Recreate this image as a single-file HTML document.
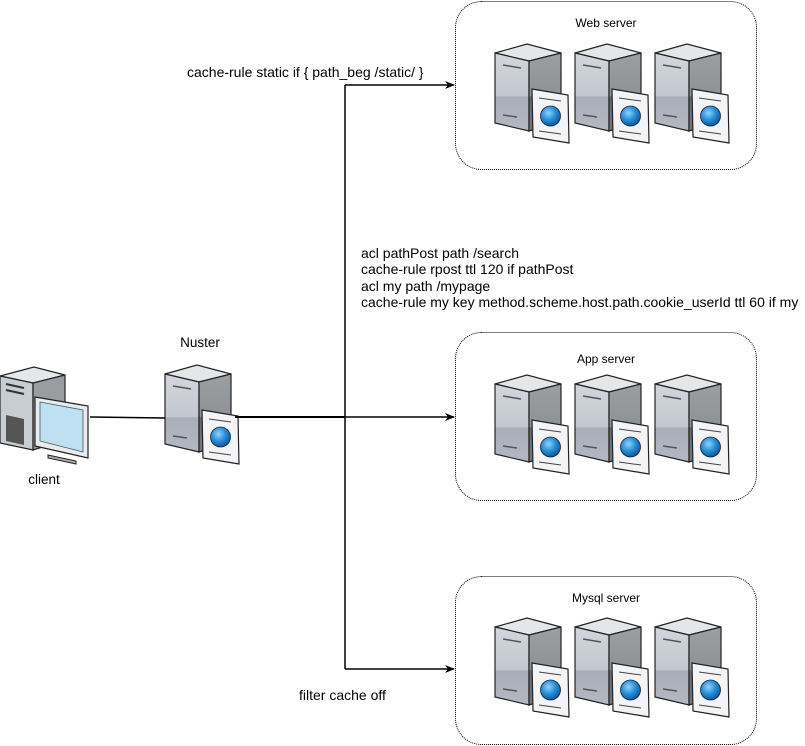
<!DOCTYPE html>
<html><head><meta charset="utf-8"><style>
html,body{margin:0;padding:0;background:#fff;}
svg{display:block;font-family:"Liberation Sans",Arial,sans-serif;}
</style></head><body>
<svg width="805" height="746" viewBox="0 0 805 746" xmlns="http://www.w3.org/2000/svg">
<defs>
<radialGradient id="gl" cx="0.4" cy="0.35" r="0.7"><stop offset="0" stop-color="#8fd4ff"/><stop offset="0.5" stop-color="#2a8fd8"/><stop offset="1" stop-color="#0a4f95"/></radialGradient>
<linearGradient id="fr" x1="0" y1="0" x2="0" y2="1"><stop offset="0" stop-color="#d3d6dc"/><stop offset="0.55" stop-color="#c3c7cf"/><stop offset="0.56" stop-color="#a9aeb9"/><stop offset="1" stop-color="#b4b8c2"/></linearGradient>
<linearGradient id="sd" x1="0" y1="0" x2="0" y2="1"><stop offset="0" stop-color="#9c9fa1"/><stop offset="0.55" stop-color="#8f9294"/><stop offset="0.56" stop-color="#676b6f"/><stop offset="1" stop-color="#75797d"/></linearGradient>
<g id="srv">
<polygon points="0,10 32,1 66,10 34,18" fill="#e4e6ea" stroke="#222" stroke-width="1.2"/>
<polygon points="0,10 34,18 34,88 0,80" fill="url(#fr)" stroke="#222" stroke-width="1.2"/>
<polygon points="34,18 66,10 66,78 34,88" fill="url(#sd)" stroke="#222" stroke-width="1.2"/>
<line x1="8" y1="22" x2="26" y2="25" stroke="#555" stroke-width="1.5"/>
<line x1="8" y1="72" x2="22" y2="74" stroke="#555" stroke-width="1.5"/>
<polygon points="37,46 73,52 74,100 38,94" fill="#f4f4f6" stroke="#222" stroke-width="1.2"/>
<line x1="44" y1="55" x2="66" y2="58" stroke="#444" stroke-width="1"/>
<line x1="44" y1="88" x2="66" y2="91" stroke="#444" stroke-width="1"/>
<circle cx="55.5" cy="73" r="10" fill="url(#gl)" stroke="#123" stroke-width="0.8"/>
</g>
<marker id="ar" markerWidth="10" markerHeight="8" refX="9" refY="4" orient="auto" markerUnits="userSpaceOnUse"><path d="M0,0 L10,4 L0,8 L3,4 z" fill="#000"/></marker>
</defs>

<rect x="455.5" y="1.5" width="301" height="168" rx="26" fill="none" stroke="#000" stroke-dasharray="1,1"/>
<rect x="455.5" y="332.5" width="301" height="168" rx="26" fill="none" stroke="#000" stroke-dasharray="1,1"/>
<rect x="455.5" y="576.5" width="301" height="168" rx="26" fill="none" stroke="#000" stroke-dasharray="1,1"/>

<text x="606" y="27" font-size="12" text-anchor="middle">Web server</text>
<text x="606" y="363" font-size="12" text-anchor="middle">App server</text>
<text x="606" y="602" font-size="12" text-anchor="middle">Mysql server</text>

<use href="#srv" x="495" y="43"/><use href="#srv" x="575" y="43"/><use href="#srv" x="655" y="43"/>
<use href="#srv" x="495" y="374"/><use href="#srv" x="575" y="374"/><use href="#srv" x="655" y="374"/>
<use href="#srv" x="495" y="617"/><use href="#srv" x="575" y="617"/><use href="#srv" x="655" y="617"/>

<use href="#srv" x="165" y="364"/>
<text x="200" y="347" font-size="13.5" text-anchor="middle">Nuster</text>

<g>
<polygon points="0,376 34,367 65,375 33,383" fill="#e4e6ea" stroke="#222" stroke-width="1.2"/>
<polygon points="0,376 33,383 33,450 0,443" fill="#c8ccd3" stroke="#222" stroke-width="1.2"/>
<polygon points="33,383 65,375 65,440 33,450" fill="#9a9d9f" stroke="#222" stroke-width="1.2"/>
<line x1="6" y1="384" x2="24" y2="388" stroke="#333" stroke-width="2"/>
<line x1="6" y1="390" x2="24" y2="394" stroke="#333" stroke-width="2"/>
<polygon points="6,415 24,419 24,445 6,441" fill="#555"/>
<polygon points="35,397 88,406 88,458 35,446" fill="#e8ecef" stroke="#222" stroke-width="1.2"/>
<polygon points="40,402 83,410 83,452 40,441" fill="#bfe0f0" stroke="#456" stroke-width="0.8"/>
<polygon points="48,455 76,461 76,464 48,458" fill="#aaa" stroke="#222" stroke-width="1"/>
</g>
<text x="44" y="484" font-size="13.5" text-anchor="middle">client</text>

<line x1="90" y1="417" x2="165" y2="418" stroke="#000" stroke-width="1.5"/>
<line x1="235" y1="417" x2="345" y2="417" stroke="#000" stroke-width="2"/>
<line x1="345" y1="85" x2="345" y2="669" stroke="#000" stroke-width="1.5"/>
<line x1="345" y1="85" x2="454" y2="85" stroke="#000" stroke-width="1.5" marker-end="url(#ar)"/>
<line x1="345" y1="417" x2="454" y2="417" stroke="#000" stroke-width="1.5" marker-end="url(#ar)"/>
<line x1="345" y1="669" x2="454" y2="669" stroke="#000" stroke-width="1.5" marker-end="url(#ar)"/>

<text x="187" y="77" font-size="14">cache-rule static if { path_beg /static/ }</text>
<text font-size="14"><tspan x="361" y="258">acl pathPost path /search</tspan><tspan x="361" y="274">cache-rule rpost ttl 120 if pathPost</tspan><tspan x="361" y="291">acl my path /mypage</tspan><tspan x="361" y="307">cache-rule my key method.scheme.host.path.cookie_userId ttl 60 if my</tspan></text>
<text x="299" y="700" font-size="14">filter cache off</text>
</svg>
</body></html>
